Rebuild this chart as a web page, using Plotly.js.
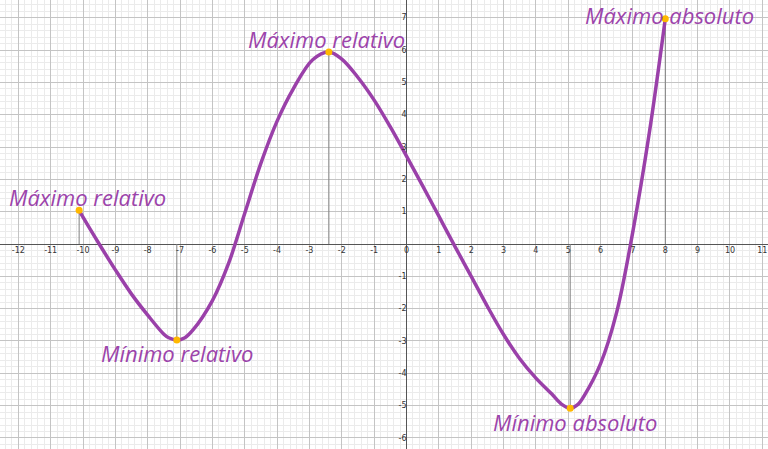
<!DOCTYPE html>
<html><head><meta charset="utf-8">
<script src="https://cdn.plot.ly/plotly-3.0.1.min.js"></script>
<style>html,body{margin:0;padding:0;background:#fff;}#chart{width:768px;height:449px;}</style>
</head><body><div id="chart"></div>
<script>
// Curve samples
const curveX = [-10.12,-10,-9.5,-9,-8.5,-8,-7.5,-7.35,-7.1,-6.85,-6.6,-6,-5.5,-5,-4.5,-4,-3.5,-2.9,-2.4,-2,-1.5,-1,-0.5,0,0.5,1,1.5,2,2.5,3,3.5,4,4.5,4.8,5.06,5.3,5.5,6,6.5,7,7.5,8];
const curveY = [1.04,0.83,0.0,-0.8,-1.55,-2.2,-2.79,-2.9,-2.97,-2.9,-2.66,-1.75,-0.6,0.95,2.5,3.8,4.8,5.7,5.94,5.72,5.15,4.45,3.62,2.72,1.8,0.86,-0.08,-1.0,-1.93,-2.8,-3.55,-4.15,-4.65,-4.96,-5.08,-4.96,-4.68,-3.7,-2.1,0.4,3.4,6.97];
// Extreme points
const extX = [-10.12,-7.1,-2.4,5.06,8];
const extY = [1.04,-2.97,5.94,-5.08,6.97];
const extLabels = ["Máximo relativo","Mínimo relativo","Máximo relativo","Mínimo absoluto","Máximo absoluto"];
// Axis ticks
const xTicks = [-12,-11,-10,-9,-8,-7,-6,-5,-4,-3,-2,-1,0,1,2,3,4,5,6,7,8,9,10,11];
const yTicks = [-6,-5,-4,-3,-2,-1,1,2,3,4,5,6,7];

const purple = '#9a40a9';
const dropX = [], dropY = [];
extX.forEach((x,i)=>{dropX.push(x,x,null);dropY.push(0,extY[i],null);});

const traces = [
  {x: dropX, y: dropY, mode:'lines', line:{color:'#808080', width:1}, hoverinfo:'skip'},
  {x: curveX, y: curveY, mode:'lines', line:{color:purple, width:3.5, shape:'spline', smoothing:1}, hoverinfo:'skip'},
  {x: extX, y: extY, mode:'markers', marker:{color:'#ffb800', size:7, line:{width:0}}, hoverinfo:'skip'}
];

const shifts = [[8,13],[0,-13],[-2,13],[5,-14],[4,4]];
const annotations = extX.map((x,i)=>({
  x:x, y:extY[i], xref:'x', yref:'y', text:'<i>'+extLabels[i]+'</i>', showarrow:false,
  xanchor:'center', yanchor:'middle', xshift:shifts[i][0], yshift:shifts[i][1],
  font:{family:'Open Sans, sans-serif', size:22, color:'#9c44ab'}
}));

const yr = [-6.341, 7.547];
const layout = {
  width:768, height:449, margin:{l:0,r:0,t:0,b:0}, showlegend:false,
  paper_bgcolor:'#fff', plot_bgcolor:'#fff',
  xaxis:{range:[-12.566,11.175], anchor:'free', position:(0-yr[0])/(yr[1]-yr[0]),
    tickmode:'array', tickvals:xTicks, ticktext:xTicks.map(String), ticks:'', ticklen:0,
    tickfont:{family:'DejaVu Sans, sans-serif', size:8, color:'#333'},
    showgrid:true, gridcolor:'#c4c4c4', gridwidth:1,
    minor:{dtick:0.2, showgrid:true, gridcolor:'#ebebeb', gridwidth:1},
    zeroline:true, zerolinecolor:'#555', zerolinewidth:1, showline:false, fixedrange:true},
  yaxis:{range:yr, anchor:'free', position:(0+12.566)/(12.566+11.175),
    tickmode:'array', tickvals:yTicks, ticktext:yTicks.map(String), ticks:'', ticklen:0,
    tickfont:{family:'DejaVu Sans, sans-serif', size:8, color:'#333'},
    showgrid:true, gridcolor:'#c4c4c4', gridwidth:1,
    minor:{dtick:0.2, showgrid:true, gridcolor:'#ebebeb', gridwidth:1},
    zeroline:true, zerolinecolor:'#555', zerolinewidth:1, showline:false, fixedrange:true},
  annotations: annotations
};
Plotly.newPlot('chart', traces, layout, {staticPlot:true, displayModeBar:false});
</script></body></html>
